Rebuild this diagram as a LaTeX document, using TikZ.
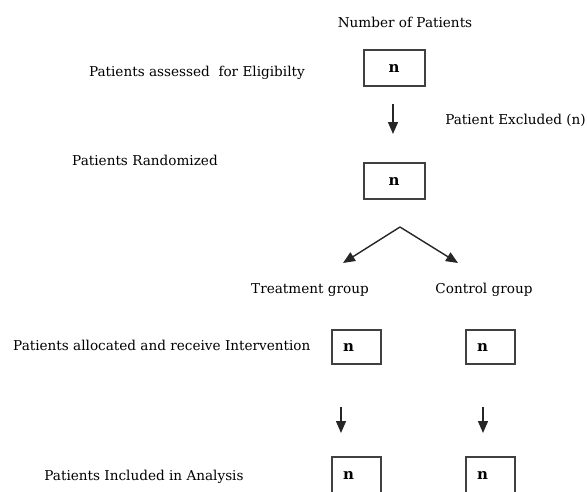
\documentclass[tikz,border=0pt]{standalone}
\usepackage{fontspec}
\setmainfont{DejaVu Serif}
\usetikzlibrary{
	positioning,
	arrows.meta
}
\tikzset{
	cell/.style={draw=black!75,line width=2pt,minimum width=61pt,minimum height=36pt,inner sep=0pt,font=\fontsize{15}{18}\selectfont\bfseries},
	subcell/.style={cell,minimum width=49pt,minimum height=34pt,text width=26pt,align=left},
	lbl/.style={inner sep=0pt,font=\fontsize{13.6}{16}\selectfont},
	flow/.style={-{Triangle[length=12pt,width=10pt]},line width=1.4pt,black!85}
}

\begin{document}
\begin{tikzpicture}[x=1pt,y=-1pt]
	\clip (0,0) rectangle (587,491);
	\draw
		node [lbl]              (hdr)   at (405,22)  {Number of Patients}
		node [cell]             (b1)    at (394,68)  {n}
		node [lbl,anchor=east]  (elig)  at (305,73)  {Patients assessed\ \ for Eligibilty}
		node [lbl,anchor=east]  (excl)  at (586,120) {Patient Excluded (n)}
		node [cell]             (b2)    at (394,181) {n}
		node [lbl]              (rand)  at (145,160) {Patients Randomized}
		node [lbl]              (tg)    at (310,290) {Treatment group}
		node [lbl]              (cg)    at (484,290) {Control group}
		node [lbl,anchor=west]  (alloc) at (13,345)  {Patients allocated and receive Intervention}
		node [subcell]          (t1)    at (356,347) {n}
		node [subcell]          (c1)    at (490,347) {n}
		node [lbl]              (incl)  at (144,477) {Patients Included in Analysis}
		node [subcell,minimum height=36pt] (t2) at (356,475) {n}
		node [subcell,minimum height=36pt] (c2) at (490,475) {n}
	;
	\coordinate (x1) at (393,104);
	\coordinate (x2) at (393,134);
	\coordinate (apex) at (400,227);
	\coordinate (tl) at (343,263);
	\coordinate (tr) at (458,263);
	\coordinate (t1a) at (341,407);
	\coordinate (t1b) at (341,433);
	\coordinate (c1a) at (483,407);
	\coordinate (c1b) at (483,433);
	\draw[flow] (x1) -- (x2);
	\draw[flow] (apex) -- (tl);
	\draw[flow] (apex) -- (tr);
	\draw[flow] (t1a) -- (t1b);
	\draw[flow] (c1a) -- (c1b);
\end{tikzpicture}
\end{document}
